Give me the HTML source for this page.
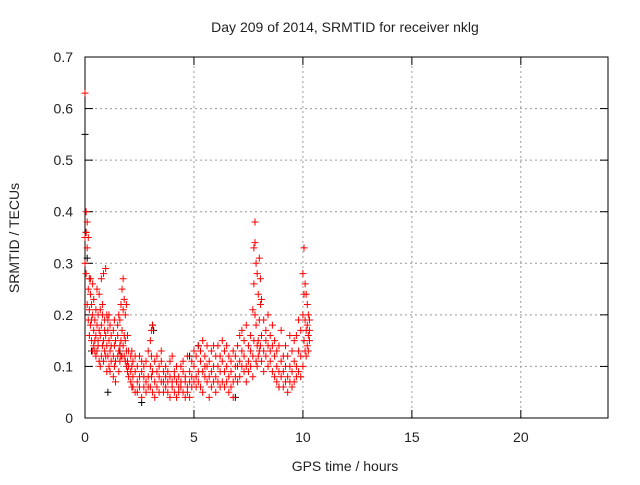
<!DOCTYPE html>
<html><head><meta charset="utf-8"><style>
body{margin:0;background:#fff}
svg text{font-family:"Liberation Sans",sans-serif;font-size:14px;fill:#222}
</style></head><body>
<svg id="chart" width="640" height="480">
<text x="345" y="32" text-anchor="middle">Day 209 of 2014, SRMTID for receiver nklg</text>
<text x="345" y="471" text-anchor="middle">GPS time / hours</text>
<text transform="translate(19,238) rotate(-90)" text-anchor="middle">SRMTID / TECUs</text>
<g id="grid"></g><g id="axes"></g><g id="black"></g><g id="red"></g>
</svg>
<script>
const xTicks=[0,5,10,15,20];
const yTicks=[0,0.1,0.2,0.3,0.4,0.5,0.6,0.7];
const yTickLabels=["0","0.1","0.2","0.3","0.4","0.5","0.6","0.7"];
const redRows=[
[0,.63,.30,.35],[0.05,.40,.36,.28],[0.1,.38,.33,.22],[0.15,.35,.25,.19],[0.2,.27,.21,.16],[0.25,.24,.18,.27],[0.3,.22,.15,.19],[0.35,.26,.13,.20],[0.4,.17,.14,.23],[0.45,.19,.15,.13],[0.5,.21,.16,.12],[0.55,.18,.13,.25],[0.6,.20,.14,.15],[0.65,.24,.17,.11],[0.7,.16,.10,.21],[0.75,.27,.18,.12],[0.8,.22,.14,.20],[0.85,.15,.11,.28],[0.9,.19,.13,.17],[0.95,.29,.16,.12],[1.0,.20,.14,.09],[1.05,.17,.12,.19],[1.1,.15,.10,.20],[1.15,.13,.09,.18],[1.2,.16,.11,.14],[1.3,.12,.08,.17],[1.35,.14,.10,.19],[1.4,.11,.07,.15],[1.5,.16,.12,.18],[1.55,.13,.09,.20],[1.6,.19,.14,.11],[1.65,.22,.15,.12],[1.7,.17,.12,.25],[1.75,.27,.21,.14],[1.8,.23,.16,.12],[1.85,.20,.15,.11],[1.9,.22,.13,.10],[1.95,.16,.11,.09],[2.0,.13,.08,.10],[2.1,.12,.07,.09],[2.15,.10,.06,.13],[2.2,.11,.08,.06],[2.3,.09,.05,.12],[2.4,.10,.07,.05],[2.5,.12,.08,.06],[2.6,.09,.04,.11],[2.7,.08,.06,.10],[2.8,.11,.07,.05],[2.9,.13,.08,.06],[3.0,.10,.06,.15],[3.05,.17,.12,.08],[3.1,.18,.09,.05],[3.2,.11,.07,.04],[3.3,.09,.06,.12],[3.4,.08,.05,.10],[3.5,.11,.07,.13],[3.6,.09,.05,.07],[3.7,.10,.06,.08],[3.8,.07,.05,.09],[3.9,.08,.04,.11],[4.0,.12,.06,.07],[4.1,.09,.05,.08],[4.2,.07,.04,.10],[4.3,.08,.06,.05],[4.4,.10,.07,.06],[4.5,.09,.05,.11],[4.6,.07,.04,.08],[4.7,.12,.06,.05],[4.8,.09,.04,.07],[4.9,.11,.08,.06],[5.0,.10,.07,.13],[5.1,.12,.08,.06],[5.2,.14,.09,.07],[5.3,.11,.06,.13],[5.4,.09,.05,.15],[5.5,.12,.08,.10],[5.6,.14,.10,.07],[5.7,.08,.04,.11],[5.8,.13,.09,.06],[5.9,.10,.07,.14],[6.0,.12,.08,.05],[6.1,.14,.10,.07],[6.2,.09,.06,.12],[6.3,.11,.07,.15],[6.4,.13,.09,.06],[6.5,.10,.07,.14],[6.6,.12,.08,.05],[6.7,.09,.06,.11],[6.8,.07,.04,.13],[6.9,.12,.08,.10],[7.0,.14,.10,.07],[7.1,.11,.08,.16],[7.2,.17,.10,.13],[7.3,.12,.09,.15],[7.4,.10,.07,.18],[7.5,.14,.11,.09],[7.6,.16,.10,.13],[7.7,.21,.12,.08],[7.75,.33,.26,.15],[7.8,.38,.34,.20],[7.85,.30,.18,.11],[7.9,.28,.14,.10],[7.95,.24,.15,.12],[8.0,.31,.19,.13],[8.05,.27,.22,.14],[8.1,.23,.16,.11],[8.2,.19,.13,.09],[8.3,.17,.12,.15],[8.4,.20,.14,.10],[8.5,.16,.11,.13],[8.6,.14,.09,.18],[8.7,.12,.08,.15],[8.8,.10,.07,.13],[8.9,.14,.09,.06],[9.0,.11,.08,.17],[9.1,.09,.06,.12],[9.2,.14,.10,.07],[9.3,.12,.08,.05],[9.4,.10,.07,.16],[9.5,.13,.09,.06],[9.6,.11,.07,.15],[9.7,.16,.10,.08],[9.8,.13,.09,.19],[9.9,.17,.12,.08],[10.0,.28,.20,.10],[10.05,.33,.24,.15],[10.1,.26,.19,.13],[10.15,.24,.17,.12],[10.2,.22,.18,.14],[10.25,.20,.16,.13],[10.3,.19,.17,.15]
];
const blackT=[0,0.05,1.05,3.1,4.8,2.6,6.9,8.9,0.3,1.6,7.8,5.2,0.1,3.15];
const blackV=[0.55,0.36,0.05,0.18,0.12,0.03,0.04,0.06,0.13,0.13,0.38,0.14,0.31,0.17];
const X0=85,X1=608,Y0=418,Y1=57,XMAX=24,YMAX=0.7;
function xs(t){return X0+(X1-X0)*t/XMAX;}
function ys(v){return Y0-(Y0-Y1)*v/YMAX;}
const NS="http://www.w3.org/2000/svg";
function mk(tag,attrs,parent){const e=document.createElementNS(NS,tag);for(const k in attrs)e.setAttribute(k,attrs[k]);parent.appendChild(e);return e;}
const grid=document.getElementById('grid'),axes=document.getElementById('axes');
yTicks.forEach((v,i)=>{
  const y=ys(v);
  if(i>0&&i<yTicks.length-1){const g=mk('line',{x1:X0,x2:X1,y1:y,y2:y,stroke:'#999','stroke-dasharray':'2,3'},grid);
  
  }
  mk('line',{x1:X0,x2:X0+8,y1:y,y2:y,stroke:'#000'},axes);
  mk('line',{x1:X1,x2:X1-8,y1:y,y2:y,stroke:'#000'},axes);
  const t=mk('text',{x:X0-12,y:y+5,'text-anchor':'end'},axes);t.textContent=yTickLabels[i];
  
  
});
xTicks.forEach((v,i)=>{
  const x=xs(v);
  if(i>0){const g=mk('line',{x1:x,x2:x,y1:Y0,y2:Y1,stroke:'#999','stroke-dasharray':'2,3'},grid);
  
  }
  mk('line',{x1:x,x2:x,y1:Y0,y2:Y0-8,stroke:'#000'},axes);
  mk('line',{x1:x,x2:x,y1:Y1,y2:Y1+8,stroke:'#000'},axes);
  const t=mk('text',{x:x,y:Y0+24,'text-anchor':'middle'},axes);t.textContent=String(v);
  
  
});
const frame=mk('rect',{x:X0,y:Y1,width:X1-X0,height:Y0-Y1,fill:'none',stroke:'#000'},axes);


function plus(x,y,color,parent,name){
  const p=mk('path',{d:`M${x-3.5},${y}h7M${x},${y-3.5}v7`,stroke:color,'stroke-width':1,fill:'none'},parent);
  
  
}
const bg=document.getElementById('black');
blackT.forEach((t,i)=>plus(xs(t),ys(blackV[i]),'#000',bg,'black-point'));
const rg=document.getElementById('red');
redRows.forEach(r=>{for(let j=1;j<r.length;j++)plus(xs(r[0]),ys(r[j]),'#f00',rg,'red-point');});
</script>
</body></html>
